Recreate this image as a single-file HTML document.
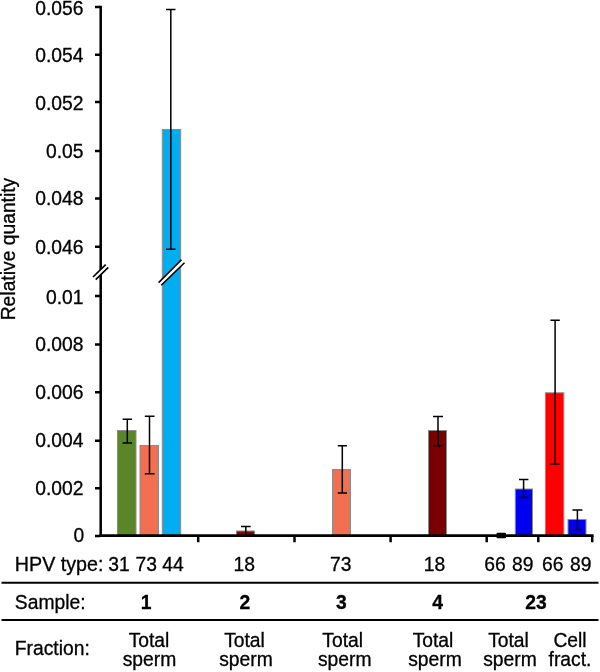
<!DOCTYPE html>
<html><head><meta charset="utf-8"><title>Chart</title>
<style>
html,body{margin:0;padding:0;background:#fff;}
svg{display:block;}
text{font-family:"Liberation Sans",Arial,sans-serif;font-size:19.3px;fill:#000;stroke:#000;stroke-width:0.3px;}
.b{font-weight:bold;}
.m{text-anchor:middle;}
.e{text-anchor:end;}
</style></head><body>
<svg width="600" height="672" viewBox="0 0 600 672">
<rect width="600" height="672" fill="#fff"/>
<!-- bars -->
<g stroke="#8c8c8c" stroke-width="1">
<rect x="162.3" y="129.5" width="18.4" height="406" fill="#00adee"/>
<rect x="117.5" y="430.5" width="18.5" height="105" fill="#5a8528"/>
<rect x="140" y="445.5" width="18.5" height="90" fill="#f26f51"/>
<rect x="236.5" y="531" width="18" height="4.5" fill="#8c0000"/>
<rect x="332.5" y="469.5" width="18" height="66" fill="#f26f51"/>
<rect x="428.5" y="430.5" width="18" height="105" fill="#7a0000"/>
<rect x="515.3" y="489" width="17.2" height="46.5" fill="#0000f0"/>
<rect x="545.4" y="392.8" width="18.4" height="142.7" fill="#ff0000"/>
<rect x="568" y="519.5" width="18" height="16" fill="#0000f0"/>
</g>
<!-- axes -->
<g stroke="#000" stroke-width="2.7" fill="none">
<path d="M100.7 5.7V537" stroke-width="2.55"/>
<path d="M99.3 535.65H593.6"/>
</g>
<g stroke="#000" stroke-width="2.5" fill="none">
<path d="M95 7H100M95 54.75H100M95 102.1H100M95 150.9H100M95 198.4H100M95 246.8H100"/>
<path d="M95 296H100M95 344.6H100M95 392.2H100M95 440.8H100M95 488.3H100M95 536.1H100"/>
<path d="M198.2 536V542.3M294.5 536V542.3M390.6 536V542.3M486.7 536V542.3M538.3 536V542.3M592.2 536V542.3"/>
</g>
<!-- axis break -->
<polygon points="93,277 105.7,264.7 108.3,267.3 95.7,279.7" fill="#fff"/>
<g stroke="#000" stroke-width="1.7">
<path d="M93 277L105.7 264.7M95.7 279.7L108.3 267.3"/>
</g>
<polygon points="158.6,282.6 181.5,259.75 184.5,262.75 161.25,285.25" fill="#fff"/>
<g stroke="#000" stroke-width="1.6">
<path d="M158.6 282.6L181.5 259.75M161.25 285.25L184.5 262.75"/>
</g>
<!-- error bars -->
<g stroke="#000" stroke-width="1.5" fill="none">
<path d="M170.8 9.5V249.3M166 9.5H175.5M166 249.3H175.5"/>
<path d="M127.3 419.3V442.9M122.6 419.3H132.1M122.6 442.9H132.1"/>
<path d="M149.5 416.2V473.8M144.8 416.2H154.5M144.8 473.8H154.5"/>
<path d="M245.8 526.5V535M241 526.5H250.7"/>
<path d="M342.3 445.7V493M337.8 445.7H347M337.8 493H347"/>
<path d="M438 416.5V445.8M433 416.5H443M433 445.8H443"/>
<path d="M523.6 479.4V497.4M519 479.4H528.4M519 497.4H528.4"/>
<path d="M555.1 320.3V463.9M550.4 320.3H559.8M550.4 463.9H559.8"/>
<path d="M577.4 510V529.4M572.4 510H582.4M572.4 529.4H582.4"/>
</g>
<rect x="496.5" y="532.8" width="9.5" height="5.4" rx="1" fill="#000"/>
<!-- y labels -->
<g class="e">
<text x="83.5" y="14.5" class="e">0.056</text>
<text x="83.5" y="61.6" class="e">0.054</text>
<text x="83.5" y="109.8" class="e">0.052</text>
<text x="83.5" y="158" class="e">0.05</text>
<text x="83.5" y="204.8" class="e">0.048</text>
<text x="83.5" y="253.5" class="e">0.046</text>
<text x="83.5" y="303.5" class="e">0.01</text>
<text x="83.5" y="350.8" class="e">0.008</text>
<text x="83.5" y="398.9" class="e">0.006</text>
<text x="83.5" y="447.3" class="e">0.004</text>
<text x="83.5" y="494.7" class="e">0.002</text>
<text x="84.3" y="542.4" class="e">0</text>
</g>
<text transform="translate(14.8,320.3) rotate(-90)">Relative quantity</text>
<!-- table -->
<g stroke="#000" stroke-width="2">
<path d="M1.5 582.8H598.5M1.5 619.9H598.5"/>
</g>
<text x="14.8" y="570.8" textLength="88.6" lengthAdjust="spacingAndGlyphs">HPV type:</text>
<text x="119" y="570.8" class="m">31</text>
<text x="146.3" y="570.8" class="m">73</text>
<text x="173" y="570.8" class="m">44</text>
<text x="244.3" y="570.8" class="m">18</text>
<text x="340.7" y="570.8" class="m">73</text>
<text x="434.5" y="570.8" class="m">18</text>
<text x="495" y="570.8" class="m">66</text>
<text x="522.7" y="570.8" class="m">89</text>
<text x="552.7" y="570.8" class="m">66</text>
<text x="580.7" y="570.8" class="m">89</text>
<text x="14.8" y="608.9">Sample:</text>
<text x="146" y="608.9" class="m b">1</text>
<text x="244.8" y="608.9" class="m b">2</text>
<text x="341.3" y="608.9" class="m b">3</text>
<text x="437.6" y="608.9" class="m b">4</text>
<text x="536" y="608.9" class="m b">23</text>
<text x="14.8" y="655">Fraction:</text>
<text x="149" y="646.7" class="m">Total</text>
<text x="149.5" y="665.7" class="m">sperm</text>
<text x="244.5" y="646.7" class="m">Total</text>
<text x="246" y="665.7" class="m">sperm</text>
<text x="342.7" y="646.7" class="m">Total</text>
<text x="344.7" y="665.7" class="m">sperm</text>
<text x="433" y="646.7" class="m">Total</text>
<text x="435" y="665.7" class="m">sperm</text>
<text x="508.5" y="646.7" class="m">Total</text>
<text x="510" y="665.7" class="m">sperm</text>
<text x="570" y="646.7" class="m">Cell</text>
<text x="570" y="665.7" class="m">fract.</text>
</svg>
</body></html>
